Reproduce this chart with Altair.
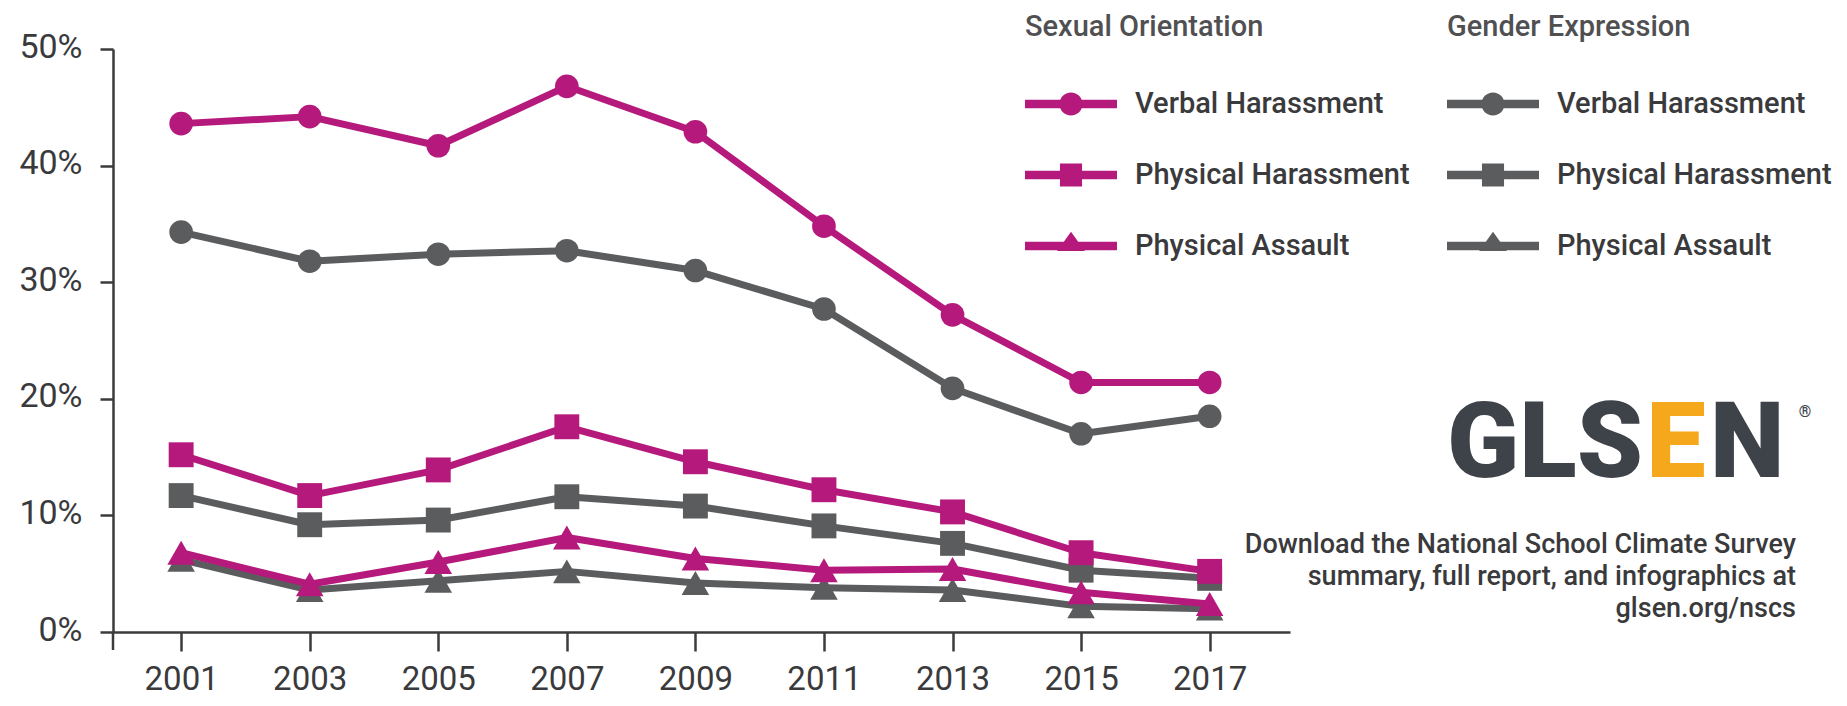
import altair as alt
import pandas as pd

# ---------------- data ----------------
years = [2001, 2003, 2005, 2007, 2009, 2011, 2013, 2015, 2017]
types = ["Verbal Harassment", "Physical Harassment", "Physical Assault"]
groups = ["Sexual Orientation", "Gender Expression"]

so_verbal = [43.6, 44.2, 41.7, 46.8, 42.9, 34.8, 27.2, 21.4, 21.4]
so_physical = [15.2, 11.7, 13.9, 17.6, 14.6, 12.2, 10.3, 6.8, 5.2]
so_assault = [6.8, 4.1, 6.0, 8.1, 6.3, 5.3, 5.4, 3.4, 2.4]

ge_verbal = [34.3, 31.8, 32.4, 32.7, 31.0, 27.7, 20.9, 17.0, 18.5]
ge_physical = [11.7, 9.2, 9.6, 11.6, 10.8, 9.1, 7.6, 5.3, 4.6]
ge_assault = [6.2, 3.6, 4.4, 5.2, 4.2, 3.8, 3.6, 2.2, 2.0]

y_ticks = [0, 10, 20, 30, 40, 50]
logo_parts = ["GLS", "E", "N", "®"]
footer_lines = [
    "Download the National School Climate Survey",
    "summary, full report, and infographics at",
    "glsen.org/nscs",
]

rows = []
for g, series in zip(groups, [[so_verbal, so_physical, so_assault],
                              [ge_verbal, ge_physical, ge_assault]]):
    for t, vals in zip(types, series):
        for yr, v in zip(years, vals):
            rows.append({"group": g, "type": t, "year": yr, "pct": v})
df = pd.DataFrame(rows)

# ---------------- style ----------------
MAG = "#b5197c"
GRY = "#5b5c5e"
AXC = "#3b3b3b"
TXT = "#3a3a3c"
FONT = "Roboto"
W, H = 1177, 583

x_enc = alt.X("year:Q",
              scale=alt.Scale(domain=[1999.94, 2018.25], nice=False, zero=False),
              axis=alt.Axis(values=years, format="d", title=None, grid=False,
                            tickSize=19, labelPadding=12, labelFontSize=33,
                            labelFlush=False, labelOverlap=False))
y_enc = alt.Y("pct:Q",
              scale=alt.Scale(domain=[0, 50], nice=False),
              axis=alt.Axis(values=y_ticks, labelExpr="datum.value + '%'",
                            title=None, grid=False, tickSize=13, labelPadding=18,
                            labelOverlap=False, labelOffset=-2))

shapes = {"Verbal Harassment": ("circle", 560),
          "Physical Harassment": ("square", 620),
          "Physical Assault": ("triangle-up", 760)}

# legend symbol paths (line with marker), x in [-1,3], marker centred at x=1
leg_paths = [
    "M-1,-0.18L3,-0.18L3,0.18L-1,0.18Z M0.5,0A0.5,0.5 0 1 1 1.5,0A0.5,0.5 0 1 1 0.5,0Z",
    "M-1,-0.18L3,-0.18L3,0.18L-1,0.18Z M0.52,-0.5L1.48,-0.5L1.48,0.5L0.52,0.5Z",
    "M-1,-0.18L3,-0.18L3,0.18L-1,0.18Z M1,-0.62L1.6,0.22L0.4,0.22Z",
]

layers = []

for g, col in [("Gender Expression", GRY), ("Sexual Orientation", MAG)]:
    base = alt.Chart(df).transform_filter(alt.datum.group == g)
    layers.append(base.mark_line(color=col, strokeWidth=7, strokeJoin="round",
                                 strokeCap="round").encode(x=x_enc, y=y_enc, detail="type:N"))
    for t in types:
        shp, sz = shapes[t]
        layers.append(base.transform_filter(alt.datum.type == t)
                      .mark_point(filled=True, shape=shp, size=sz, color=col, opacity=1)
                      .encode(x=x_enc, y=y_enc))

# legends (driven by explicit scale domains)
for g, col, lx in [("Sexual Orientation", MAG, 912), ("Gender Expression", GRY, 1334)]:
    leg = alt.Legend(title=g, orient="none", legendX=lx, legendY=-36,
                     direction="vertical", symbolSize=2116, symbolStrokeWidth=0,
                     labelFont=FONT, labelFontSize=29, labelFontWeight=500,
                     labelColor=TXT, labelOffset=64, labelLimit=500,
                     titleFont=FONT, titleFontSize=29, titleFontWeight=500,
                     titleColor="#505052", titlePadding=39, titleLimit=500,
                     rowPadding=33, padding=0, symbolOpacity=1)
    layers.append(
        alt.Chart(df).transform_filter("false")
        .mark_point(filled=True, opacity=1)
        .encode(x=x_enc, y=y_enc,
                color=alt.Color("type:N", scale=alt.Scale(domain=types, range=[col] * 3), legend=leg),
                shape=alt.Shape("type:N", scale=alt.Scale(domain=types, range=leg_paths), legend=leg))
    )

# y-axis extension below the x-axis line
layers.append(alt.Chart(pd.DataFrame({"a": [0]})).mark_rule(color=AXC, strokeWidth=2.5)
              .encode(x=alt.value(0), y=alt.value(H), y2=alt.value(H + 18)))

# logo
logo_specs = [
    (logo_parts[0], 1530, 428, 106, "#3e4349", "right", "alphabetic"),
    (logo_parts[1], 1563, 428, 106, "#f5a81c", "center", "alphabetic"),
    (logo_parts[2], 1597, 428, 106, "#3e4349", "left", "alphabetic"),
    (logo_parts[3], 1692, 363, 16, "#3e4349", "center", "middle"),
]
for txt, x, y, fs, col, al, bl in logo_specs:
    layers.append(alt.Chart(pd.DataFrame({"t": [txt]}))
                  .mark_text(align=al, baseline=bl, font="Roboto", fontWeight=900,
                             fontSize=fs, color=col)
                  .encode(x=alt.value(x), y=alt.value(y), text="t:N"))

for i, line in enumerate(footer_lines):
    layers.append(alt.Chart(pd.DataFrame({"t": [line]}))
                  .mark_text(align="right", baseline="middle", font=FONT,
                             fontSize=27, fontWeight=500, color=TXT)
                  .encode(x=alt.value(1683), y=alt.value(496 + 32 * i), text="t:N"))

chart = alt.layer(*layers).resolve_scale(color="independent", shape="independent").properties(
    width=W, height=H,
    autosize=alt.AutoSizeParams(type="none"),
    padding={"left": 105, "top": 41, "right": 549, "bottom": 66},
).configure_view(stroke=None).configure_axis(
    domainColor=AXC, domainWidth=2.5, tickColor=AXC, tickWidth=2.5,
    labelFont=FONT, labelFontSize=34, labelColor=TXT,
)

chart.save("out.html", embed_options={"renderer": "svg", "actions": False})
